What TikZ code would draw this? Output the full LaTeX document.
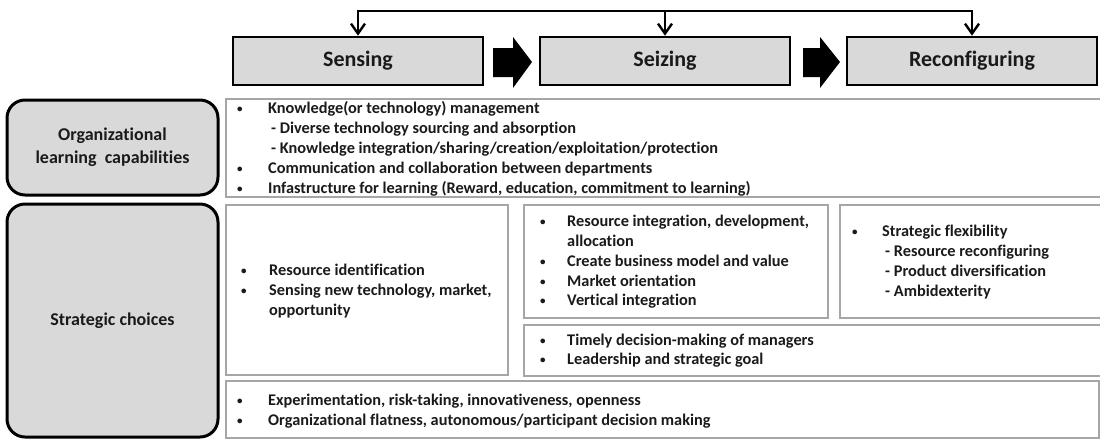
\documentclass[tikz,border=0pt]{standalone}
\usepackage{fontspec}
\setmainfont{Carlito}[Ligatures=NoCommon]
\usetikzlibrary{arrows.meta}
\definecolor{boxgray}{HTML}{D9D9D9}
\definecolor{linegray}{HTML}{A6A6A6}
\definecolor{txtc}{HTML}{1A1A1A}
\newcommand\mybul[5]{\node[txt] (#1b) at (#2,#4) {\raisebox{1pt}{\fontsize{11}{11}\selectfont\textbullet}}; \node[txt] (#1) at (#3,#4) {#5};}
\newcommand\myline[4]{\node[txt] (#1) at (#2,#3) {#4};}
\begin{document}
\begin{tikzpicture}[x=1pt,y=-1pt,
 hdr/.style={draw=black,line width=2.6pt,fill=boxgray,minimum width=250pt,minimum height=48pt,inner sep=0pt,font=\fontsize{22}{26}\selectfont\bfseries,text=txtc},
 side/.style={draw=black,line width=3pt,fill=boxgray,rounded corners=18pt,inner sep=0pt,align=center,minimum width=211pt,font=\fontsize{18}{23}\selectfont\bfseries,text=txtc},
 cbox/.style={draw=linegray,line width=1.6pt,fill=white,inner sep=0pt,anchor=north west},
 txt/.style={anchor=base west,inner sep=0pt,font=\fontsize{16.3}{20}\selectfont\bfseries,text=txtc},
 conn/.style={line width=2.4pt},
 tip/.style={-{Straight Barb[length=10pt,width=14pt,line width=2.4pt]}},
 blk/.style={fill=black}]
\useasboundingbox[fill=white] (0,0) rectangle (1100,440);

% header boxes
\node[hdr] (sensing) at (358,61) {Sensing};
\node[hdr] (seizing) at (665,61) {Seizing};
\node[hdr] (reconf) at (972,61) {Reconfiguring};

% feedback connector
\coordinate (topline) at (0,11);
\draw[conn,line cap=rect] (sensing.north |- topline) -- (reconf.north |- topline);
\draw[conn,tip] (sensing.north |- topline) -- (sensing.north);
\draw[conn,tip] (seizing.north |- topline) -- (seizing.north);
\draw[conn,tip] (reconf.north |- topline) -- (reconf.north);

% block arrows
\fill[blk] (493,48) -- (513,48) -- (513,37) -- (532,62) -- (513,88) -- (513,77) -- (493,77) -- cycle;
\fill[blk] (803,48) -- (820,48) -- (820,37) -- (840,62) -- (820,88) -- (820,77) -- (803,77) -- cycle;

% side boxes
\node[side,minimum height=95pt] (org) at (112.5,147.5) {Organizational\\learning\ \ capabilities};
\node[side,minimum height=233pt] (strat) at (112.5,320.5) {Strategic choices};

% content boxes
\node[cbox,minimum width=877pt,minimum height=98pt] (orgc) at (225,98) {};
\node[cbox,minimum width=282pt,minimum height=170pt] (sensec) at (225,204) {};
\node[cbox,minimum width=304pt,minimum height=113pt] (seizec) at (523,204) {};
\node[cbox,minimum width=263pt,minimum height=113pt] (reconfc) at (839,204) {};
\node[cbox,minimum width=579pt,minimum height=51pt] (seizeb) at (523,324) {};
\node[cbox,minimum width=873pt,minimum height=57pt] (bottomc) at (225,380) {};

% organizational learning texts
\mybul{oa}{237}{268}{113}{Knowledge(or technology) management}
\myline{ob}{271}{133}{- Diverse technology sourcing and absorption}
\myline{oc}{271}{153}{- Knowledge integration/sharing/creation/exploitation/protection}
\mybul{od}{237}{268}{173}{Communication and collaboration between departments}
\mybul{oe}{237}{268}{193}{Infastructure for learning (Reward, education, commitment to learning)}

% sensing texts
\mybul{sa}{241}{269}{275}{Resource identification}
\mybul{sb}{241}{269}{295}{Sensing new technology, market,}
\myline{sc}{269}{315}{opportunity}

% seizing texts
\mybul{za}{540}{567}{226}{Resource integration, development,}
\myline{zb}{567}{246}{allocation}
\mybul{zc}{540}{567}{266}{Create business model and value}
\mybul{zd}{540}{567}{286}{Market orientation}
\mybul{ze}{540}{567}{305}{Vertical integration}

% reconfiguring texts
\mybul{ra}{852}{882}{236}{Strategic flexibility}
\myline{rb}{885}{256}{- Resource reconfiguring}
\myline{rc}{885}{276}{- Product diversification}
\myline{rd}{885}{296}{- Ambidexterity}

% seizing lower texts
\mybul{ta}{540}{567}{345}{Timely decision-making of managers}
\mybul{tb}{540}{567}{364}{Leadership and strategic goal}

% bottom texts
\mybul{ua}{237}{268}{405}{Experimentation, risk-taking, innovativeness, openness}
\mybul{ub}{237}{268}{425}{Organizational flatness, autonomous/participant decision making}
\end{tikzpicture}
\end{document}
